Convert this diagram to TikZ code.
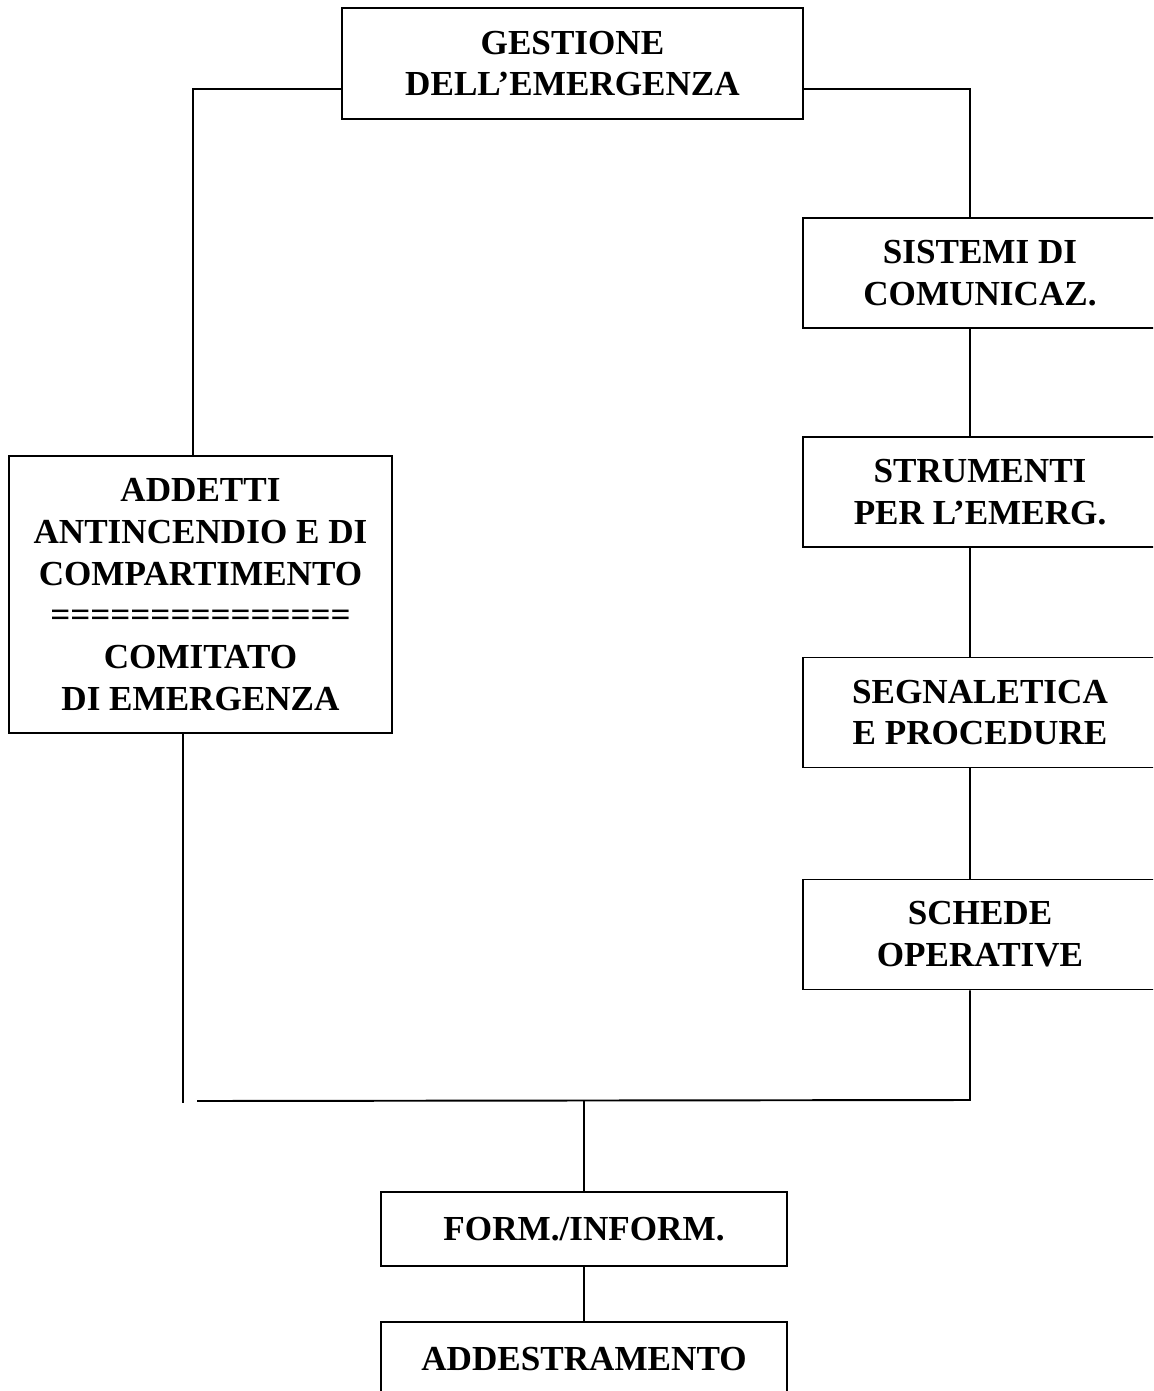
\documentclass[tikz,border=0pt]{standalone}
\usepackage{fontspec}
\setmainfont{Liberation Serif}
\usetikzlibrary{positioning}

\tikzset{
  box/.style={draw, line width=1.1pt, align=center, inner sep=0pt,
    font=\bfseries\fontsize{20}{23.8}\selectfont},
  sidebox/.style={box, minimum width=7.08cm, minimum height=2.2cm},
  link/.style={line width=1.1pt}
}

\begin{document}
\begin{tikzpicture}[x=0.02cm, y=-0.02cm]
\useasboundingbox (0,0) rectangle (1153,1391);
\clip (0,0) rectangle (1153,1391);

% top
\node[box, minimum width=9.22cm, minimum height=2.22cm] (gest) at (572.5,63.5) {GESTIONE\\DELL’EMERGENZA};

% right column
\node[sidebox] (sist) at (980,273)   {SISTEMI DI\\COMUNICAZ.};
\node[sidebox] (stru) at (980,492)   {STRUMENTI\\PER L’EMERG.};
\node[sidebox] (segn) at (980,712.5) {SEGNALETICA\\E PROCEDURE};
\node[sidebox] (sche) at (980,934.5) {SCHEDE\\OPERATIVE};

% left column
\node[box, minimum width=7.66cm, minimum height=5.54cm] (addt) at (200.5,594.5)
  {ADDETTI\\ANTINCENDIO E DI\\COMPARTIMENTO\\===============\\COMITATO\\DI EMERGENZA};

% bottom
\node[box, minimum width=8.12cm, minimum height=1.48cm] (form) at (584,1229) {FORM./INFORM.};
\node[box, minimum width=8.12cm, minimum height=1.48cm] (adde) at (584,1359) {ADDESTRAMENTO};

% corner points
\coordinate (jl) at (193,89);
\coordinate (jr) at (970,89);
\coordinate (br) at (970,1100);
\coordinate (bl) at (197,1101);
\coordinate (al) at (183,1103);

\draw[link] (jl -| gest.west) -- (jl) -- (jl |- addt.north);
\draw[link] (jr -| gest.east) -- (jr) -- (jr |- sist.north);
\draw[link] (sist.south -| jr) -- (stru.north -| jr);
\draw[link] (stru.south -| jr) -- (segn.north -| jr);
\draw[link] (segn.south -| jr) -- (sche.north -| jr);
\draw[link] (sche.south -| jr) -- (br) -- (bl);
\draw[link] (addt.south -| al) -- (al);
\draw[link] (form.north |- bl) -- (form.north);
\draw[link] (form.south) -- (adde.north);
\end{tikzpicture}
\end{document}
